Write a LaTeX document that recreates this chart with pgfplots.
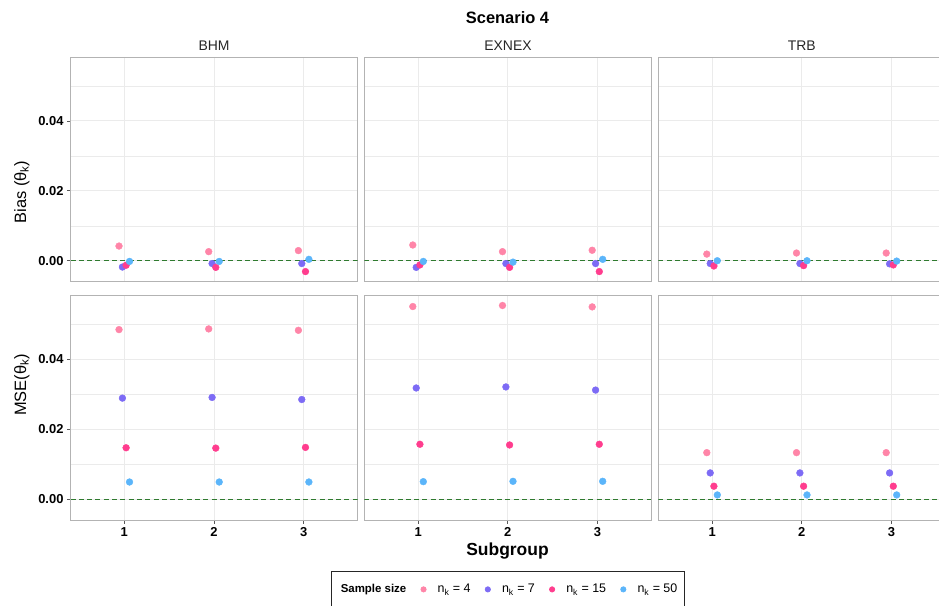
\documentclass[border=0pt]{standalone}
\usepackage{fontspec}
\setmainfont{Liberation Sans}
\usepackage{pgfplots}
\usepackage{pgfplotstable}
\pgfplotsset{compat=1.18}

\definecolor{c4}{HTML}{FF85A8}
\definecolor{c7}{HTML}{7D6BF5}
\definecolor{c15}{HTML}{FF3D8E}
\definecolor{c50}{HTML}{5BB5FA}
\definecolor{zeroline}{HTML}{2F7A2F}
\definecolor{framec}{HTML}{B3B3B3}
\definecolor{gridc}{HTML}{EBEBEB}

% bias, one table per method
\pgfplotstableread{
sg n4 n7 n15 n50
1 0.0042 -0.0018 -0.0013 -0.0002
2 0.0026 -0.0008 -0.0019 -0.0002
3 0.0029 -0.0008 -0.0031 0.0004
}\bhmbias
\pgfplotstableread{
sg n4 n7 n15 n50
1 0.0045 -0.0019 -0.0012 -0.0002
2 0.0026 -0.0008 -0.0019 -0.0004
3 0.0030 -0.0008 -0.0031 0.0004
}\exnexbias
\pgfplotstableread{
sg n4 n7 n15 n50
1 0.0019 -0.0008 -0.0015 0.0000
2 0.0022 -0.0008 -0.0014 0.0000
3 0.0022 -0.0009 -0.0012 -0.0001
}\trbbias
% mse
\pgfplotstableread{
sg n4 n7 n15 n50
1 0.0485 0.0289 0.0147 0.0049
2 0.0487 0.0291 0.0146 0.0049
3 0.0483 0.0285 0.0148 0.0049
}\bhmmse
\pgfplotstableread{
sg n4 n7 n15 n50
1 0.0551 0.0318 0.0157 0.0050
2 0.0554 0.0321 0.0155 0.0051
3 0.0550 0.0312 0.0157 0.0051
}\exnexmse
\pgfplotstableread{
sg n4 n7 n15 n50
1 0.0133 0.0075 0.0037 0.0012
2 0.0133 0.0075 0.0037 0.0012
3 0.0133 0.0075 0.0037 0.0012
}\trbmse

\pgfplotsset{
  panel/.style={
    scale only axis, width=287bp, height=224.4bp,
    xmin=0.4, xmax=3.6, ymin=-0.006, ymax=0.0582,
    scaled y ticks=false,
    xtick={1,2,3}, ytick={0,0.02,0.04}, minor ytick={0.01,0.03,0.05},
    xticklabels={1,2,3}, yticklabels={0.00,0.02,0.04},
    xmajorgrids, ymajorgrids, yminorgrids,
    major grid style={draw=gridc, line width=0.9bp},
    minor grid style={draw=gridc, line width=0.5bp},
    axis line style={draw=framec, line width=0.9bp},
    tick pos=left, tick align=outside,
    major tick length=3.5bp, minor tick length=0bp,
    tick style={draw=black!65, line width=0.8bp},
    ticklabel style={font=\bfseries\fontsize{13}{13}\selectfont, black},
  },
  nox/.style={xticklabels={}, xtick style={draw=none}},
  noy/.style={yticklabels={}, ytick style={draw=none}},
  pts/.style={only marks, mark=*, mark size=3.4bp, mark options={draw=none, fill=#1}, color=#1},
}

\newcommand{\panel}[1]{%
  \addplot[zeroline, line width=1bp, dash pattern=on 5bp off 3.3bp, forget plot] coordinates {(0.4,0) (3.6,0)};
  \addplot[pts=c4, xshift=-5.3bp] table[x=sg, y=n4] {#1};
  \addplot[pts=c7, xshift=-1.9bp] table[x=sg, y=n7] {#1};
  \addplot[pts=c15, xshift=1.8bp] table[x=sg, y=n15] {#1};
  \addplot[pts=c50, xshift=5.2bp] table[x=sg, y=n50] {#1};
}

\begin{document}
\begin{tikzpicture}
\path[use as bounding box] (0bp,0bp) rectangle (939bp,-606bp);

\begin{axis}[panel, nox, at={(70.5bp,-57.3bp)}, anchor=north west]
\panel{\bhmbias}
\end{axis}
\begin{axis}[panel, nox, noy, at={(364.3bp,-57.3bp)}, anchor=north west]
\panel{\exnexbias}
\end{axis}
\begin{axis}[panel, nox, noy, at={(658.3bp,-57.3bp)}, anchor=north west]
\panel{\trbbias}
\end{axis}

\begin{axis}[panel, at={(70.5bp,-295.7bp)}, anchor=north west]
\panel{\bhmmse}
\end{axis}
\begin{axis}[panel, noy, at={(364.3bp,-295.7bp)}, anchor=north west,
  legend columns=5,
  legend image post style={mark size=2.7bp},
  legend style={at={(0.5,-0.2268)}, anchor=north, draw=black!85, line width=0.6bp,
    font=\fontsize{12.5}{14}\selectfont, inner xsep=5bp, inner ysep=11bp,
    /tikz/every odd column/.append style={column sep=9.5bp},
    /tikz/every even column/.append style={column sep=12.5bp}},
  legend cell align=left]
\addlegendimage{empty legend}
\addlegendentry{\hspace*{-7bp}\bfseries\fontsize{11.5}{14}\selectfont Sample size}
\panel{\exnexmse}
\addlegendentry{n\textsubscript{k} = 4}
\addlegendentry{n\textsubscript{k} = 7}
\addlegendentry{n\textsubscript{k} = 15}
\addlegendentry{n\textsubscript{k} = 50}
\end{axis}
\begin{axis}[panel, noy, at={(658.3bp,-295.7bp)}, anchor=north west]
\panel{\trbmse}
\end{axis}

% titles and strip labels
\node[anchor=base, font=\bfseries\fontsize{16.5}{16.5}\selectfont] at (507.5bp,-23.3bp) {Scenario 4};
\node[anchor=base, font=\fontsize{14}{14}\selectfont, black!85] at (214bp,-50bp) {BHM};
\node[anchor=base, font=\fontsize{14}{14}\selectfont, black!85] at (508bp,-50bp) {EXNEX};
\node[anchor=base, font=\fontsize{14}{14}\selectfont, black!85] at (801.7bp,-50bp) {TRB};
\node[anchor=base, rotate=90, font=\fontsize{16.5}{16.5}\selectfont] at (26bp,-192bp) {Bias (θ\textsubscript{k})};
\node[anchor=base, rotate=90, font=\fontsize{16.5}{16.5}\selectfont] at (26bp,-385bp) {MSE(θ\textsubscript{k})};
\node[anchor=base, font=\bfseries\fontsize{17.5}{17.5}\selectfont] at (507.5bp,-555.5bp) {Subgroup};
\end{tikzpicture}
\end{document}
